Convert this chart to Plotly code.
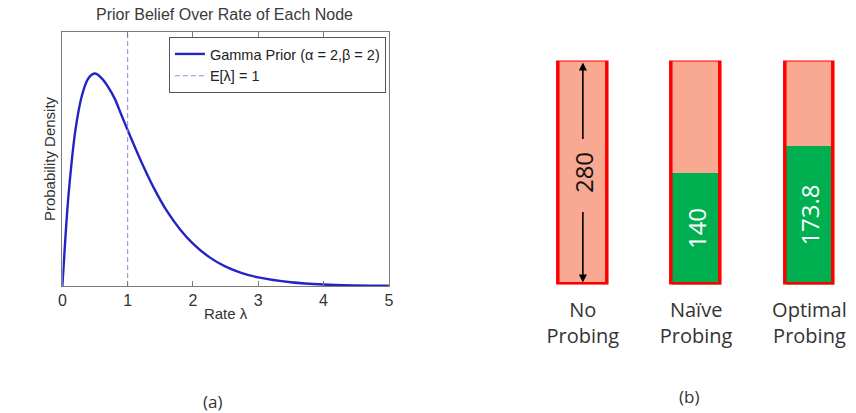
import plotly.graph_objects as go

# (a) Gamma(alpha=2, beta=2) prior density over a node's rate
rate = [0, 0.05, 0.1, 0.2, 0.3, 0.4, 0.5, 0.6, 0.7, 0.8, 0.9, 1.0, 1.2, 1.4,
        1.6, 1.8, 2.0, 2.25, 2.5, 2.75, 3.0, 3.5, 4.0, 4.5, 5.0]
density = [0, 0.18, 0.33, 0.54, 0.66, 0.72, 0.736, 0.72, 0.69, 0.65, 0.595,
           0.54, 0.435, 0.34, 0.26, 0.197, 0.147, 0.10, 0.067, 0.045, 0.03,
           0.013, 0.005, 0.002, 0.001]
mean_rate = [1, 1]
mean_span = [0, 0.88]
rate_ticks = [0, 1, 2, 3, 4, 5]

# (b) probing strategies
strategies = ["No<br>Probing", "Naïve<br>Probing", "Optimal<br>Probing"]
total = [280, 280, 280]
probed = [None, 140, 173.8]

LEFT_FONT = "Liberation Sans, Arial, sans-serif"
RIGHT_FONT = "Open Sans, Noto Sans, sans-serif"
SALMON = "#f9a892"
RED = "#ff0000"
GREEN = "#00b050"

fig = go.Figure()

fig.add_trace(go.Scatter(
    x=rate, y=density, mode="lines", line=dict(color="#2424c4", width=2.4, shape="spline"),
    name="Gamma Prior (α = 2,β = 2)", xaxis="x", yaxis="y"))
fig.add_trace(go.Scatter(
    x=mean_rate, y=mean_span, mode="lines",
    line=dict(color="#8a8ae0", width=1, dash="5px,3px"),
    name="E[λ] = 1", xaxis="x", yaxis="y"))

bar_width = 0.43
fig.add_trace(go.Bar(
    x=strategies, y=total, width=bar_width, marker=dict(color=SALMON, line=dict(width=0)),
    text=[f"{total[0]:g}", "", ""], textposition="inside", insidetextanchor="middle",
    textangle=-90, textfont=dict(color="#111111", size=24, family=RIGHT_FONT),
    showlegend=False, xaxis="x2", yaxis="y2", hoverinfo="skip"))
fig.add_trace(go.Bar(
    x=strategies, y=probed, width=bar_width, marker=dict(color=GREEN, line=dict(width=0)),
    text=["" if v is None else f"{v:g}" for v in probed], textposition="inside",
    insidetextanchor="middle", textangle=-90,
    textfont=dict(color="white", size=24, family=RIGHT_FONT),
    showlegend=False, xaxis="x2", yaxis="y2"))
fig.add_trace(go.Bar(
    x=strategies, y=total, width=bar_width,
    marker=dict(color="rgba(0,0,0,0)", line=dict(color=RED, width=3.5)),
    showlegend=False, xaxis="x2", yaxis="y2", hoverinfo="skip"))

# double-headed span arrow for the full budget
arrow = dict(xref="x2", yref="y2", axref="pixel", ayref="pixel", ax=0, text="",
             showarrow=True, arrowhead=2, arrowsize=1, arrowwidth=1.6,
             arrowcolor="#000000", standoff=2)
fig.add_annotation(x=strategies[0], y=total[0], ay=80, **arrow)
fig.add_annotation(x=strategies[0], y=0, ay=-74, **arrow)

# panel title and captions
fig.add_annotation(x=0.2605, y=0.9637, xref="paper", yref="paper",
                   text="Prior Belief Over Rate of Each Node", showarrow=False,
                   xanchor="center", yanchor="middle",
                   font=dict(family=LEFT_FONT, size=16, color="#3a3a3a"))
for label, xp, yp in [("(a)", 0.2465, 0.029), ("(b)", 0.8084, 0.041)]:
    fig.add_annotation(x=xp, y=yp, xref="paper", yref="paper", text=label,
                       showarrow=False, xanchor="center", yanchor="middle",
                       font=dict(family=RIGHT_FONT, size=17, color="#333333"))

frame = "#7a7a7a"
fig.update_layout(
    width=856, height=413, margin=dict(l=0, r=0, t=0, b=0),
    paper_bgcolor="white", plot_bgcolor="white",
    barmode="overlay", bargap=0,
    xaxis=dict(domain=[0.0689, 0.4544], range=[0, 5], tickvals=rate_ticks,
               ticks="inside", ticklen=5, tickcolor=frame, showline=True, linecolor=frame,
               mirror="ticks", showgrid=False, zeroline=False,
               tickfont=dict(family=LEFT_FONT, size=16, color="#333333"),
               title=dict(text="Rate λ", standoff=0,
                          font=dict(family=LEFT_FONT, size=15, color="#333333"))),
    yaxis=dict(domain=[0.3075, 0.9225], range=[0, 0.88], showticklabels=False,
               ticks="", showline=True, linecolor=frame, mirror=True,
               showgrid=False, zeroline=False,
               title=dict(text="Probability Density", standoff=2,
                          font=dict(family=LEFT_FONT, size=15, color="#333333"))),
    xaxis2=dict(domain=[0.6075, 1.0], range=[-0.5677, 2.3668], type="category",
                showline=False, showgrid=False, zeroline=False, ticks="",
                ticklabelstandoff=10,
                tickfont=dict(family=RIGHT_FONT, size=20, color="#333333")),
    yaxis2=dict(domain=[0.3111, 0.8535], range=[0, 280], visible=False),
    legend=dict(x=0.4509, y=0.9104, xanchor="right", yanchor="top",
                bgcolor="white", bordercolor="#555555", borderwidth=1,
                font=dict(family=LEFT_FONT, size=14.5, color="#222222"),
                tracegroupgap=0, itemwidth=30),
    showlegend=True,
)

fig.write_html("out.html")
